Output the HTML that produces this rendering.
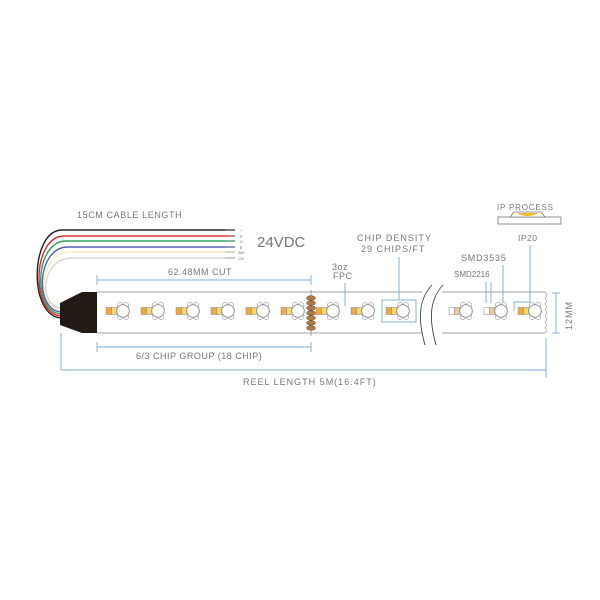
<!DOCTYPE html>
<html><head><meta charset="utf-8"><style>
html,body{margin:0;padding:0;background:#fff;}
svg{display:block;}
text{font-family:"Liberation Sans",sans-serif;fill:#777;}
</style></head><body>
<svg width="600" height="600" viewBox="0 0 600 600" xmlns="http://www.w3.org/2000/svg">
<defs>
<g id="led">
  <g fill="#fff" stroke="#999" stroke-width="0.6">
  <circle cx="14" cy="-6" r="2.6"/><circle cx="20" cy="-6" r="2.6"/>
  <circle cx="14" cy="6" r="2.6"/><circle cx="20" cy="6" r="2.6"/>
  </g>
  <circle cx="17" cy="0" r="6.3" fill="#fff" stroke="#888" stroke-width="0.9"/>
</g>
<g id="chip">
  <rect x="0" y="-3.5" width="5.5" height="7" fill="#f2a93b" stroke="#888" stroke-width="0.5"/>
  <rect x="5.5" y="-3.5" width="5.5" height="7" fill="#f7d774" stroke="#888" stroke-width="0.5"/>
  <use href="#led"/>
</g>
<g id="chip2">
  <rect x="0" y="-3.5" width="5.5" height="7" fill="#fff" stroke="#888" stroke-width="0.5"/>
  <rect x="5.5" y="-3.5" width="5.5" height="7" fill="#e8c9a0" stroke="#888" stroke-width="0.5"/>
  <use href="#led"/>
</g>
</defs>
<!-- wires -->
<g fill="none" stroke-width="1.4">
  <path d="M62,318 C28,318 30,230 62,230 L235,230" stroke="#222"/>
  <path d="M62,316 C30,316 32,236 64,236 L235,236" stroke="#e02a2a"/>
  <path d="M62,314 C32,314 34,241 66,241 L235,241" stroke="#2fa060"/>
  <path d="M62,312 C34,312 36,247 68,247 L235,247" stroke="#5560b0"/>
  <path d="M62,310 C36,310 38,252 70,252 L235,252" stroke="#f5edc0"/>
  <path d="M62,308 C38,308 40,258 72,258 L235,258" stroke="#d8d8d8"/>
</g>
<g stroke="#999" stroke-width="0.6">
  <line x1="225" y1="230" x2="235" y2="230"/><line x1="225" y1="236" x2="235" y2="236"/>
  <line x1="225" y1="241" x2="235" y2="241"/><line x1="225" y1="247" x2="235" y2="247"/>
  <line x1="225" y1="252" x2="235" y2="252"/><line x1="225" y1="258" x2="235" y2="258"/>
</g>
<g font-size="3.5"><text x="240" y="232">+</text><text x="240" y="238">R</text><text x="240" y="243">G</text><text x="240" y="249">B</text><text x="238" y="254">WW</text><text x="238" y="260">CW</text></g>
<text x="77" y="218" font-size="9" letter-spacing="0.6">15CM CABLE LENGTH</text>
<text x="257" y="247" font-size="15" fill="#666">24VDC</text>
<!-- strip -->
<line x1="97" y1="292" x2="545" y2="292" stroke="#888" stroke-width="0.8"/>
<line x1="97" y1="333" x2="545" y2="333" stroke="#888" stroke-width="0.8"/>
<path d="M545,292 l2,3 -2,3 2,3 -2,3 2,3 -2,3 2,3 -2,3 2,3 -2,3 2,3 -2,3 2,3 -2,2" fill="none" stroke="#999" stroke-width="0.6"/>
<!-- break -->
<rect x="422" y="288" width="20" height="50" fill="#fff"/>
<path d="M432,285 C418,300 418,320 425,345" fill="none" stroke="#444" stroke-width="0.9"/>
<path d="M443,285 C429,300 429,320 436,345" fill="none" stroke="#444" stroke-width="0.9"/>
<!-- connector -->
<polygon points="82,292 97,292 97,333 82,333 60,325 60,303" fill="#231a15"/>
<!-- chips -->
<use href="#chip" x="106" y="311"/><use href="#chip" x="141" y="311"/><use href="#chip" x="176" y="311"/>
<use href="#chip" x="211" y="311"/><use href="#chip" x="246" y="311"/><use href="#chip" x="281" y="311"/>
<use href="#chip" x="316" y="311"/><use href="#chip" x="351" y="311"/><use href="#chip" x="386" y="311"/>
<use href="#chip2" x="449" y="311"/><use href="#chip2" x="484" y="311"/><use href="#chip" x="518" y="311"/>
<!-- cut -->
<line x1="311" y1="290" x2="311" y2="336" stroke="#666" stroke-width="0.6"/>
<g fill="#b07a48" stroke="#6b4a2a" stroke-width="0.5">
<ellipse cx="311" cy="298" rx="4.5" ry="2.3"/><ellipse cx="311" cy="303" rx="4.5" ry="2.3"/>
<ellipse cx="311" cy="308" rx="4.5" ry="2.3"/><ellipse cx="311" cy="313" rx="4.5" ry="2.3"/>
<ellipse cx="311" cy="318" rx="4.5" ry="2.3"/><ellipse cx="311" cy="323" rx="4.5" ry="2.3"/>
<ellipse cx="311" cy="328" rx="4.5" ry="2.3"/>
</g>
<!-- blue annotations -->
<g stroke="#7aaed8" stroke-width="0.9" fill="none">
  <line x1="97" y1="280" x2="311" y2="280"/><line x1="97" y1="275" x2="97" y2="285"/><line x1="311" y1="275" x2="311" y2="285"/>
  <line x1="97" y1="347" x2="311" y2="347"/><line x1="97" y1="342" x2="97" y2="352"/><line x1="311" y1="342" x2="311" y2="352"/>
  <line x1="61" y1="370" x2="546" y2="370"/><line x1="61" y1="333" x2="61" y2="370"/><line x1="546" y1="338" x2="546" y2="378"/>
  <line x1="556" y1="293" x2="556" y2="333"/><line x1="552" y1="293" x2="560" y2="293"/><line x1="552" y1="333" x2="560" y2="333"/>
  <rect x="382" y="300" width="34" height="22"/>
  <line x1="399" y1="257" x2="399" y2="300"/>
  <line x1="486" y1="282" x2="486" y2="303"/><line x1="491" y1="282" x2="491" y2="303"/>
  <line x1="503" y1="265" x2="503" y2="302"/>
  <polyline points="514,311 514,302 530,302 530,245"/>
</g>
<line x1="345" y1="283" x2="345" y2="306" stroke="#7aaed8" stroke-width="0.9"/>
<text x="168" y="275" font-size="9" letter-spacing="0.5">62.48MM CUT</text>
<text x="136" y="359" font-size="9" letter-spacing="0.5">6/3 CHIP GROUP  (18 CHIP)</text>
<text x="243" y="385" font-size="9" letter-spacing="1">REEL LENGTH 5M(16.4FT)</text>
<text x="332" y="270" font-size="9" letter-spacing="0.5">3oz</text>
<text x="333" y="279" font-size="9" letter-spacing="0.5">FPC</text>
<text x="357" y="241" font-size="9" letter-spacing="1">CHIP DENSITY</text>
<text x="361" y="252" font-size="9" letter-spacing="1">29 CHIPS/FT</text>
<text x="461" y="261" font-size="9" letter-spacing="0.8">SMD3535</text>
<text x="454" y="277" font-size="8">SMD2216</text>
<text x="518" y="241" font-size="8.5" letter-spacing="0.5">IP20</text>
<text x="497" y="210" font-size="8" letter-spacing="0.8">IP PROCESS</text>
<text x="0" y="0" font-size="9" letter-spacing="1" transform="translate(572,330) rotate(-90)">12MM</text>
<!-- IP icon -->
<rect x="498" y="217" width="63" height="7" fill="#fff" stroke="#777" stroke-width="0.8"/>
<polygon points="510,217 514,212 541,212 545,217" fill="#fff" stroke="#777" stroke-width="0.8"/>
<path d="M517,213 Q527,219 538,213 Z" fill="#f1b92a"/>
</svg>
</body></html>
